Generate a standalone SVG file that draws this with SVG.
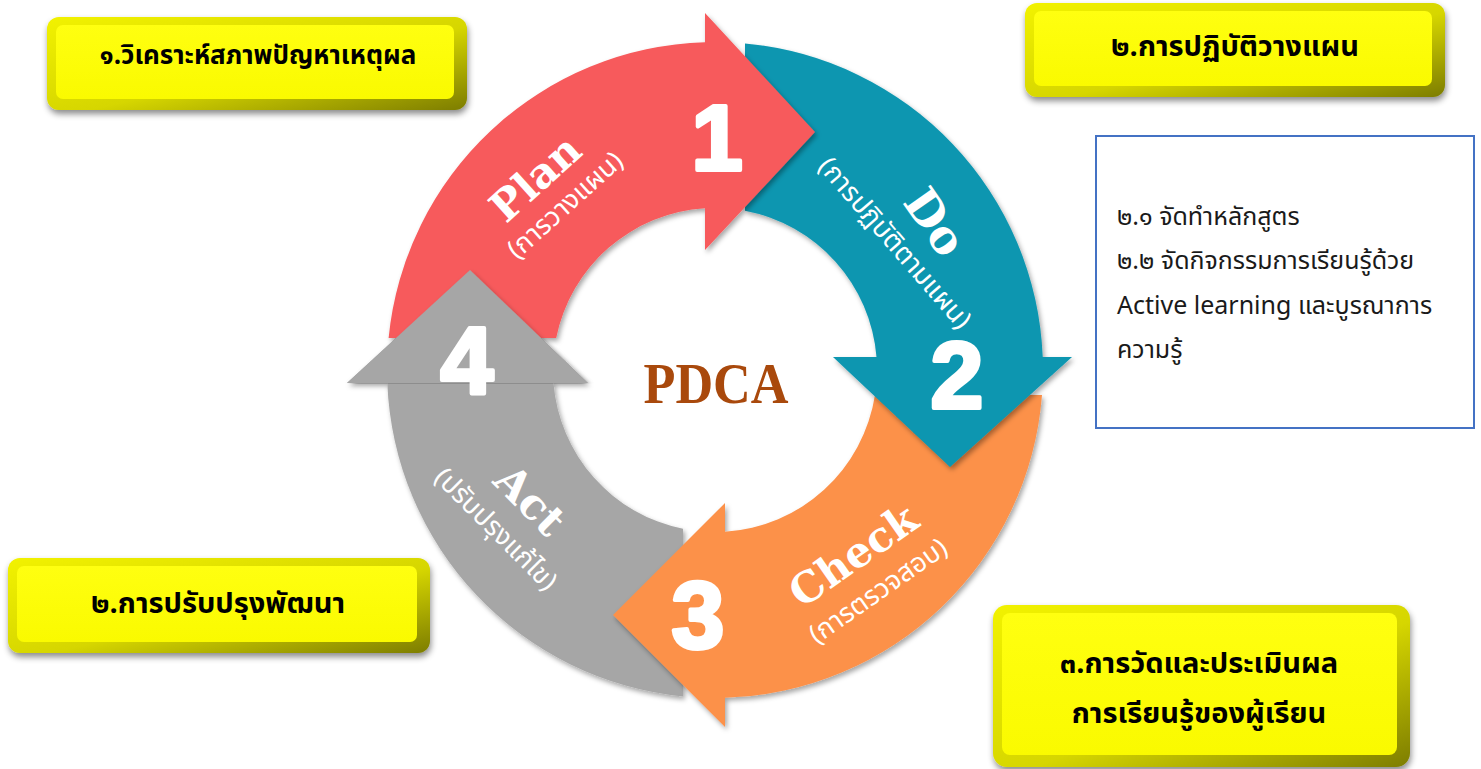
<svg xmlns="http://www.w3.org/2000/svg" width="1481" height="769" viewBox="0 0 1481 769">
<defs>
<filter id="ash" x="-10%" y="-10%" width="130%" height="130%">
<feDropShadow dx="2" dy="3" stdDeviation="2.5" flood-color="#000" flood-opacity="0.35"/>
</filter>
<filter id="bsh" x="-10%" y="-20%" width="125%" height="150%">
<feDropShadow dx="1" dy="4" stdDeviation="3" flood-color="#000" flood-opacity="0.45"/>
</filter>
<linearGradient id="bev" x1="0" y1="0" x2="1" y2="1">
<stop offset="0" stop-color="#f2f200"/>
<stop offset="0.55" stop-color="#d6d600"/>
<stop offset="1" stop-color="#7d7d00"/>
</linearGradient>
<linearGradient id="face" x1="0" y1="0" x2="0" y2="1">
<stop offset="0" stop-color="#ffff10"/>
<stop offset="1" stop-color="#fafa00"/>
</linearGradient>
<clipPath id="ghclip"><rect x="300" y="200" width="340" height="183.5"/></clipPath>
<style>
.num{font-family:"Liberation Sans",Arial,sans-serif;font-weight:bold;fill:#fff;stroke:#fff;stroke-width:4;stroke-linejoin:round;text-anchor:middle}
.lab{font-family:"DejaVu Serif","Liberation Serif",serif;font-weight:bold;fill:#fff;text-anchor:middle}
.sub{font-family:"Noto Sans Thai","Noto Sans","DejaVu Sans",sans-serif;fill:#fff;font-size:27px;text-anchor:middle}
.btxt{font-family:"Noto Sans Thai","Noto Sans","DejaVu Sans",sans-serif;font-weight:bold;fill:#000;font-size:29px;text-anchor:middle}
.btxt.small{font-size:26px}
.ltxt{font-family:"Noto Sans Thai","Noto Sans","DejaVu Sans",sans-serif;fill:#1a1a1a;font-size:25px}
</style>
</defs>
<rect width="1481" height="769" fill="#fff"/>

<g id="cycle">
<g id="act-arrow">
<path filter="url(#ash)" fill="#A6A6A6" d="M 683 696.4 A 328 328 0 0 1 387.3 383 L 347 383 L 470 270 L 588 383 L 553.5 383 A 162 162 0 0 0 683 528.8 Z"/>
</g>
<g id="check-arrow">
<path filter="url(#ash)" fill="#FC914A" d="M 1042 395 A 328 328 0 0 1 725 697.8 L 725 727 L 613 615 L 725 503 L 725 531.7 A 162 162 0 0 0 875 395 Z"/>
</g>
<g id="do-arrow">
<path filter="url(#ash)" fill="#0A96B0" d="M 745 43.4 A 328 328 0 0 1 1042.7 357 L 1072 357 L 950 467 L 833 357 L 876.5 357 A 162 162 0 0 0 745 210.8 Z"/>
</g>
<g id="plan-arrow">
<path filter="url(#ash)" fill="#F75A5B" d="M 388.6 338 A 328 328 0 0 1 705 42.2 L 705 13 L 815 132 L 705 250 L 705 208.3 A 162 162 0 0 0 556.2 338 Z"/>
</g>
<g id="act-head" clip-path="url(#ghclip)">
<path filter="url(#ash)" fill="#A6A6A6" d="M 347 383 L 470 270 L 588 383 Z"/>
</g>

<g id="labels">
<text class="num" x="717" y="170" font-size="92">1</text>
<text class="num" x="957" y="408" font-size="95">2</text>
<text class="num" x="698" y="648" font-size="95">3</text>
<text class="num" x="467" y="393" font-size="95">4</text>

<g transform="translate(535,178) rotate(-42)"><text class="lab" x="0" y="15" font-size="42">Plan</text></g>
<g transform="translate(565,205) rotate(-42)"><text class="sub" x="0" y="9">(การวางแผน)</text></g>

<g transform="translate(935,222) rotate(55)"><text class="lab" x="0" y="16" font-size="46">Do</text></g>
<g transform="translate(895,243) rotate(49)"><text class="sub" x="0" y="9">(การปฏิบัติตามแผน)</text></g>

<g transform="translate(853,555) rotate(-35)"><text class="lab" x="0" y="15" font-size="42">Check</text></g>
<g transform="translate(878,591) rotate(-35)"><text class="sub" x="0" y="9">(การตรวจสอบ)</text></g>

<g transform="translate(530,500) rotate(45)"><text class="lab" x="0" y="15" font-size="43">Act</text></g>
<g transform="translate(496,529) rotate(45)"><text class="sub" x="0" y="9">(ปรับปรุงแก้ไข)</text></g>

<text x="716" y="403" font-family="Liberation Serif,serif" font-weight="bold" font-size="58" fill="#A9490C" text-anchor="middle" textLength="145" lengthAdjust="spacingAndGlyphs">PDCA</text>
</g>
</g>

<g id="box-analyze">
<rect x="47" y="17" width="420" height="93" rx="12" fill="url(#bev)" filter="url(#bsh)"/>
<rect x="56" y="25" width="398" height="74" rx="7" fill="url(#face)"/>
<text class="btxt small" x="258" y="64">๑.วิเคราะห์สภาพปัญหาเหตุผล</text>
</g>

<g id="box-do">
<rect x="1025" y="3" width="420" height="94" rx="12" fill="url(#bev)" filter="url(#bsh)"/>
<rect x="1034" y="11" width="398" height="75" rx="7" fill="url(#face)"/>
<text class="btxt" x="1235" y="56">๒.การปฏิบัติวางแผน</text>
</g>

<g id="box-act">
<rect x="8" y="558" width="422" height="95" rx="12" fill="url(#bev)" filter="url(#bsh)"/>
<rect x="17" y="566" width="400" height="76" rx="7" fill="url(#face)"/>
<text class="btxt" x="218" y="613">๒.การปรับปรุงพัฒนา</text>
</g>

<g id="box-check">
<rect x="993" y="605" width="417" height="162" rx="14" fill="url(#bev)" filter="url(#bsh)"/>
<rect x="1002" y="613" width="395" height="142" rx="8" fill="url(#face)"/>
<text class="btxt" x="1199" y="673">๓.การวัดและประเมินผล</text>
<text class="btxt" x="1199" y="723">การเรียนรู้ของผู้เรียน</text>
</g>

<g id="note-box">
<rect x="1096" y="136" width="378" height="292" fill="#fff" stroke="#4472C4" stroke-width="2"/>
<text class="ltxt" x="1117" y="225">๒.๑ จัดทำหลักสูตร</text>
<text class="ltxt" x="1117" y="269">๒.๒ จัดกิจกรรมการเรียนรู้ด้วย</text>
<text class="ltxt" x="1117" y="314">Active learning และบูรณาการ</text>
<text class="ltxt" x="1117" y="358">ความรู้</text>
</g>
</svg>
